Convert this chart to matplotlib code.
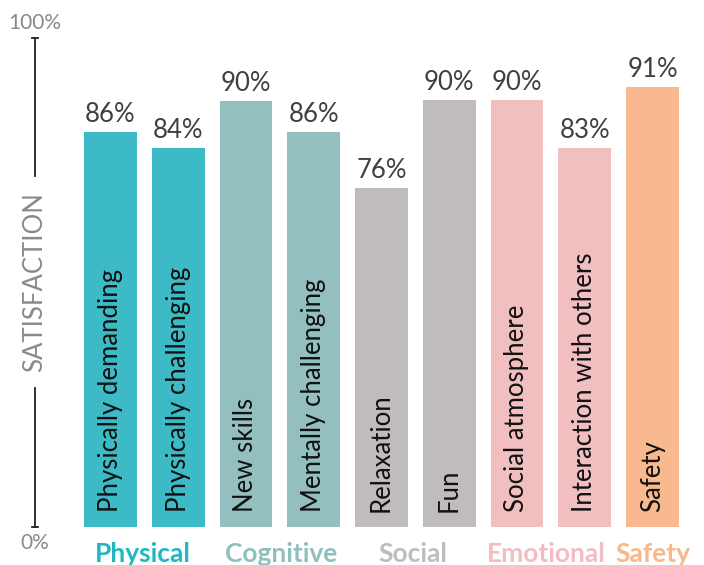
import matplotlib
matplotlib.use('Agg')
import matplotlib.pyplot as plt

plt.rcParams['font.family'] = ['Lato', 'DejaVu Sans']

# data
items = ['Physically demanding', 'Physically challenging', 'New skills',
         'Mentally challenging', 'Relaxation', 'Fun', 'Social atmosphere',
         'Interaction with others', 'Safety']
values = [86, 84, 90, 86, 76, 90, 90, 83, 91]
# drawn heights (bars in the source are not exactly to scale)
heights = [80.8, 77.5, 87.1, 80.8, 69.3, 87.3, 87.3, 77.5, 90.0]
groups = ['Physical', 'Physical', 'Cognitive', 'Cognitive', 'Social', 'Social',
          'Emotional', 'Emotional', 'Safety']
group_names = ['Physical', 'Cognitive', 'Social', 'Emotional', 'Safety']
group_pos = [0.47, 2.52, 4.47, 6.43, 8.0]

bar_col = {'Physical': '#3cbac6', 'Cognitive': '#93bfbf', 'Social': '#c0bcbd',
           'Emotional': '#f2bfc1', 'Safety': '#f9b98f'}
lab_col = {'Physical': '#1fb8c1', 'Cognitive': '#8fc0c0', 'Social': '#c0bcbd',
           'Emotional': '#f3bcc0', 'Safety': '#f9b88a'}

fig = plt.figure(figsize=(7.04, 5.65), dpi=100)
ax = fig.add_axes([35/704, 38/565, 669/704, 489/565])
ax.set_xlim(-1.114, 8.76)
ax.set_ylim(0, 100)
ax.axis('off')

xs = range(len(items))
ax.bar(xs, heights, width=0.78, color=[bar_col[g] for g in groups])

for x, h, v, name in zip(xs, heights, values, items):
    ax.text(x, h + 1.0, f'{v}%', ha='center', va='bottom', fontsize=18.5,
            color='#404040')
    ax.text(x, 3.0, name, rotation=90, ha='center', va='bottom',
            fontsize=18.5, color='#111111')

# axis line, broken around the label
xl = -1.114
ax.plot([xl, xl], [0, 28.4], color='#222222', lw=1.3, clip_on=False)
ax.plot([xl, xl], [71.8, 100], color='#222222', lw=1.3, clip_on=False)
for yy in (0, 100):
    ax.plot([xl - 0.05, xl + 0.05], [yy, yy], color='#222222', lw=1.3,
            clip_on=False)
ax.text(xl, 50.0, 'SATISFACTION', rotation=90, ha='center', va='center',
        fontsize=18.5, color='#8a8a8a')
ax.text(xl, 103.0, '100%', ha='center', va='center', fontsize=15,
        color='#8a8a8a')
ax.text(xl, -3.3, '0%', ha='center', va='center', fontsize=15,
        color='#8a8a8a')

for name, gx in zip(group_names, group_pos):
    ax.text(gx, -7.16, name, ha='center', va='baseline', fontsize=19,
            fontweight='bold', color=lab_col[name])

fig.savefig('out.png', dpi=100)
